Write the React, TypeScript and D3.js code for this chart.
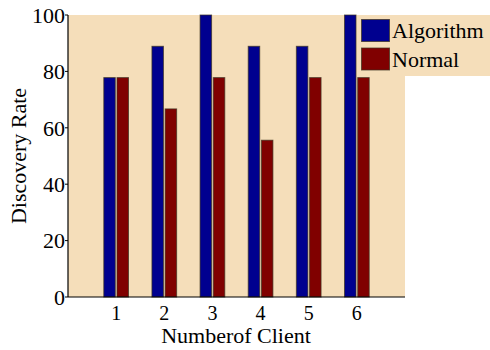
import React from "react";
import * as d3 from "d3";

const categories = ["1", "2", "3", "4", "5", "6"];
const algorithm = [77.8, 88.9, 100, 88.9, 88.9, 100];
const normal = [77.8, 66.7, 77.8, 55.6, 77.8, 77.8];
const yTicks = [0, 20, 40, 60, 80, 100];
const seriesNames = ["Algorithm", "Normal"];
const colors = ["#00008F", "#800000"];

const W = 490, H = 350;
const left = 68, right = 405, top = 15, bottom = 297;
const font = "'Liberation Serif', 'Times New Roman', serif";
const fs = 22;

export default function App() {
  const x = d3.scaleLinear().domain([0, 7]).range([left, right]);
  const y = d3.scaleLinear().domain([0, 100]).range([bottom, top]);
  const bw = 11.5;
  const off = 6.6;
  const series = [algorithm, normal];
  return (
    <svg width={W} height={H} style={{ position: "absolute", left: 0, top: 0 }}>
      <rect x={0} y={0} width={W} height={H} fill="#fff" />
      <rect x={left} y={top} width={right - left} height={bottom - top} fill="#F5DEBA" />
      {series.map((vals, s) =>
        vals.map((v, i) => {
          const cx = x(i + 1) + (s === 0 ? -off : off);
          return (
            <rect
              key={`${s}-${i}`}
              x={cx - bw / 2}
              y={y(v)}
              width={bw}
              height={y(0) - y(v)}
              fill={colors[s]}
              stroke="#3a3020"
              strokeOpacity={0.7}
              strokeWidth={1}
            />
          );
        })
      )}
      {/* legend */}
      <rect x={358} y={top} width={W - 358} height={61} fill="#F5DEBA" />
      {seriesNames.map((n, i) => (
        <g key={n}>
          <rect x={361.5} y={19.5 + i * 28.5} width={28} height={22} fill={colors[i]} stroke="#3a3020" strokeOpacity={0.7} />
          <text x={392} y={38 + i * 28.5} fontFamily={font} fontSize={fs} fill="#000">{n}</text>
        </g>
      ))}
      {/* axes */}
      <line x1={left} x2={left} y1={top} y2={bottom} stroke="#000" strokeWidth={1.2} />
      <line x1={left} x2={right} y1={bottom} y2={bottom} stroke="#000" strokeWidth={1.2} />
      {yTicks.map((t) => (
        <g key={t}>
          <line x1={left - 3} x2={left} y1={y(t)} y2={y(t)} stroke="#000" />
          <text x={left - 3} y={y(t)} dy="0.35em" textAnchor="end" fontFamily={font} fontSize={fs} fill="#000">{t}</text>
        </g>
      ))}
      {categories.map((c, i) => (
        <text key={c} x={x(i + 1)} y={320} textAnchor="middle" fontFamily={font} fontSize={20} fill="#000">{c}</text>
      ))}
      <text x={236} y={343} textAnchor="middle" fontFamily={font} fontSize={fs} fill="#000">Numberof Client</text>
      <text transform={`translate(26,156) rotate(-90)`} textAnchor="middle" fontFamily={font} fontSize={fs} fill="#000">Discovery Rate</text>
    </svg>
  );
}
